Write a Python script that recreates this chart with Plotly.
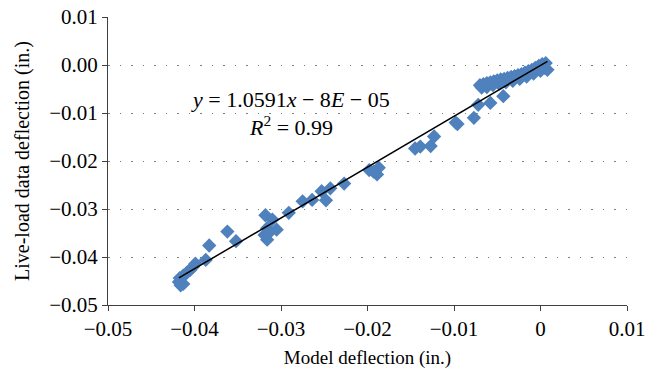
import plotly.graph_objects as go

# Measured deflections (in.)
model_defl = [
    -0.0418, -0.0416, -0.0413, -0.0417, -0.0413, -0.0409, -0.0405, -0.0402, -0.0399,
    -0.0387, -0.0383, -0.0362, -0.0352,
    -0.0318, -0.0310, -0.0316, -0.0319, -0.0316, -0.0305, -0.0313,
    -0.0291, -0.0275, -0.0264, -0.0253, -0.0248, -0.0243, -0.0227,
    -0.0198, -0.0187, -0.0189, -0.0193,
    -0.0145, -0.0139, -0.0127, -0.0123,
    -0.0096, -0.0098, -0.0077, -0.0072, -0.0058, -0.0043,
    -0.0070, -0.0066, -0.0062, -0.0058, -0.0054, -0.0050, -0.0046, -0.0042, -0.0038,
    -0.0034, -0.0030, -0.0026, -0.0022, -0.0018, -0.0014, -0.0010, -0.0006, -0.0002,
    0.0002, 0.0006,
    -0.0068, -0.0062, -0.0055, -0.0048, -0.0040, -0.0032, -0.0024, -0.0016, -0.0008,
    0.0000, 0.0005, 0.0008,
]
live_load_defl = [
    -0.0452, -0.0459, -0.0456, -0.0444, -0.0439, -0.0433, -0.0427, -0.0421, -0.0414,
    -0.0406, -0.0376, -0.0347, -0.0367,
    -0.0313, -0.0322, -0.0340, -0.0354, -0.0364, -0.0343, -0.0348,
    -0.0308, -0.0284, -0.0281, -0.0263, -0.0282, -0.0257, -0.0247,
    -0.0219, -0.0214, -0.0228, -0.0222,
    -0.0174, -0.0170, -0.0169, -0.0149,
    -0.0123, -0.0120, -0.0110, -0.0083, -0.0079, -0.0065,
    -0.0042, -0.0040, -0.0038, -0.0036, -0.0034, -0.0032, -0.0030, -0.0029, -0.0027,
    -0.0025, -0.0023, -0.0021, -0.0019, -0.0016, -0.0013, -0.0010, -0.0006, -0.0002,
    0.0002, 0.0004,
    -0.0047, -0.0046, -0.0042, -0.0039, -0.0036, -0.0033, -0.0029, -0.0024, -0.0018,
    -0.0012, -0.0006, -0.0010,
]

# Linear trendline from the chart
slope = 1.0591
intercept = -0.00008
equation_text = "<i>y</i> = 1.0591<i>x</i> − 8<i>E</i> − 05"
r2_text = "<i>R</i><sup>2</sup> = 0.99"

x_tickvals = [-0.05, -0.04, -0.03, -0.02, -0.01, 0.0, 0.01]
x_ticktext = ["−0.05", "−0.04", "−0.03", "−0.02", "−0.01", "0", "0.01"]
y_tickvals = [0.01, 0.0, -0.01, -0.02, -0.03, -0.04, -0.05]
y_ticktext = ["0.01", "0.00", "−0.01", "−0.02", "−0.03", "−0.04", "−0.05"]

line_x = [min(model_defl), max(model_defl)]
line_y = [slope * v + intercept for v in line_x]

FONT = "Liberation Serif"
AX = "#404040"

fig = go.Figure()
fig.add_trace(go.Scatter(
    x=model_defl, y=live_load_defl, mode="markers",
    marker=dict(symbol="diamond", size=11, color="#4F81BD", line=dict(width=0)),
    showlegend=False,
))
fig.add_trace(go.Scatter(
    x=line_x, y=line_y, mode="lines",
    line=dict(color="black", width=1.5), showlegend=False,
))

fig.add_annotation(x=-0.0289, y=-0.0072, xref="x", yref="y", text=equation_text,
                   showarrow=False, font=dict(family=FONT, size=22, color="black"))
fig.add_annotation(x=-0.0289, y=-0.0127, xref="x", yref="y", text=r2_text,
                   showarrow=False, font=dict(family=FONT, size=22, color="black"))

fig.update_layout(
    width=661, height=371,
    margin=dict(l=108, r=34, t=17, b=66),
    paper_bgcolor="white", plot_bgcolor="white",
    font=dict(family=FONT, size=20, color="black"),
    xaxis=dict(
        range=[-0.05, 0.01], tickvals=x_tickvals, ticktext=x_ticktext,
        showgrid=False, zeroline=False, automargin=False,
        showline=True, linecolor=AX, linewidth=1,
        ticks="outside", ticklen=5, tickcolor=AX, tickwidth=1,
        tickfont=dict(family=FONT, size=21),
        title=dict(text="Model deflection (in.)", font=dict(family=FONT, size=19), standoff=10),
    ),
    yaxis=dict(
        range=[-0.05, 0.01], tickvals=y_tickvals, ticktext=y_ticktext,
        showgrid=True, gridcolor="#7f7f7f", gridwidth=1.2, griddash="1.5px,10px",
        zeroline=False, automargin=False,
        showline=True, linecolor=AX, linewidth=1,
        ticks="outside", ticklen=5, tickcolor=AX, tickwidth=1,
        tickfont=dict(family=FONT, size=21),
        title=dict(text="Live-load data deflection (in.)", font=dict(family=FONT, size=20), standoff=14),
    ),
)

fig.write_html("out.html", config={"displayModeBar": False},
               post_script="document.body.style.margin='0px';")
